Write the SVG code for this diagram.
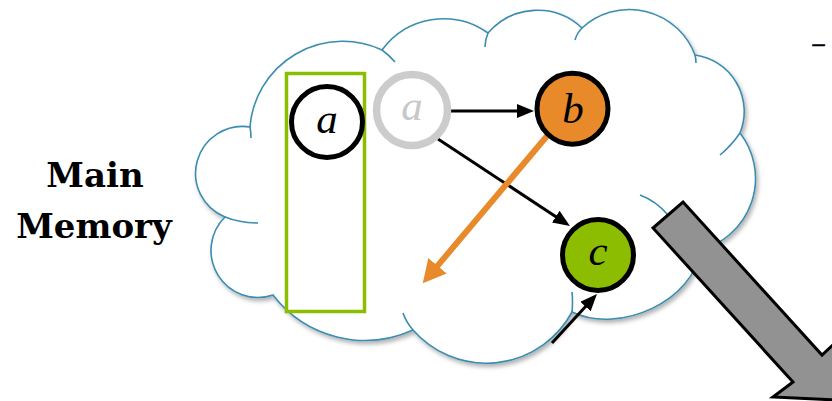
<svg xmlns="http://www.w3.org/2000/svg" width="832" height="401" viewBox="0 0 832 401">
<style>
.cloud{fill:#fff;stroke:#3A8DB0;stroke-width:1.6;filter:url(#sh)}
.stub{fill:none;stroke:#3A8DB0;stroke-width:1.6}
.node{stroke:#000;stroke-width:5}
.lbl{font-family:"Liberation Serif",serif;font-style:italic;font-size:43px;text-anchor:middle}
.conn{fill:none;stroke:#000;stroke-width:3}
.title{font-family:"DejaVu Serif",serif;font-weight:bold;font-size:34px;text-anchor:middle}
</style>
<defs>
<filter id="sh" x="-10%" y="-10%" width="120%" height="120%">
<feDropShadow dx="2" dy="3" stdDeviation="2" flood-color="#000" flood-opacity="0.3"/>
</filter>
<marker id="ah" viewBox="0 0 17 14" refX="7" refY="7" markerWidth="17" markerHeight="14" markerUnits="userSpaceOnUse" orient="auto">
<path d="M0,0 L17,7 L0,14 z" fill="#000"/>
</marker>
<marker id="ahO" viewBox="0 0 23 24" refX="8" refY="12" markerWidth="23" markerHeight="24" markerUnits="userSpaceOnUse" orient="auto">
<path d="M0,0 L23,12 L0,24 z" fill="#E8892A"/>
</marker>
</defs>
<g id="cloud">
<path class="cloud" d="M225,217 A47,47 0 0 1 250,127 A93,93 0 0 1 382,50 A76.5,76.5 0 0 1 488,33 A65,65 0 0 1 582,28 A70,70 0 0 1 695,55 A57,57 0 0 1 740,133 A74,74 0 0 1 700,250 C695,300 620,335 572,312 A97.4,97.4 0 0 1 413,330 A116,116 0 0 1 273,295 A47,47 0 0 1 225,217 Z"/>
<path class="stub" d="M250,127 Q251,132 251,138 M225,217 Q240,223 258,223 M382,50 Q389,55 395,62 M488,33 Q485,40 485,47 M582,28 Q577,33 575,40 M695,55 Q696,59 696,63 M740,133 Q731,146 720,155 M640,195 Q656,201 668,215 M572,312 Q573,302 572,292 M413,330 Q406,322 403,313"/>
</g>
<g id="label-main-memory">
<text class="title" x="95" y="187">Main</text>
<text class="title" x="94" y="238">Memory</text>
</g>
<g id="dash">
<text x="818.5" y="51" font-family="Liberation Sans, sans-serif" font-size="22" text-anchor="middle" stroke="#000" stroke-width="0.6">–</text>
</g>
<g id="old-root-box">
<rect x="286.5" y="73.5" width="78" height="238" fill="#fff" stroke="#8CBE00" stroke-width="3.5"/>
</g>
<g id="connectors">
<path class="conn" d="M450,111 L524,111" marker-end="url(#ah)"/>
<path class="conn" d="M438,139 L561.6,220.5" marker-end="url(#ah)"/>
<path class="conn" d="M552,343 L590.2,301.4" marker-end="url(#ah)"/>
<path d="M547,136 L432.4,271.9" fill="none" stroke="#E8892A" stroke-width="6" marker-end="url(#ahO)"/>
</g>
<g id="node-a-old">
<circle class="node" cx="327" cy="122" r="35.5" fill="#fff" stroke-width="5.5"/>
<text class="lbl" x="327" y="133">a</text>
</g>
<g id="node-a">
<circle cx="412" cy="110" r="35.5" fill="#fff" stroke="#CCCCCC" stroke-width="7.5"/>
<text class="lbl" x="412" y="120" fill="#C8C8C8">a</text>
</g>
<g id="node-b">
<circle class="node" cx="572.5" cy="108.7" r="35.5" fill="#E8892A"/>
<text class="lbl" x="573" y="123">b</text>
</g>
<g id="node-c">
<circle class="node" cx="598" cy="255" r="35.5" fill="#8CBD00"/>
<text class="lbl" x="598" y="265">c</text>
</g>
<g id="big-arrow">
<polygon points="683,202 822,355 840.5,338 836,400 773,397 793,382 653,228" fill="#929292" stroke="#000" stroke-width="3" stroke-linejoin="miter"/>
</g>
</svg>
